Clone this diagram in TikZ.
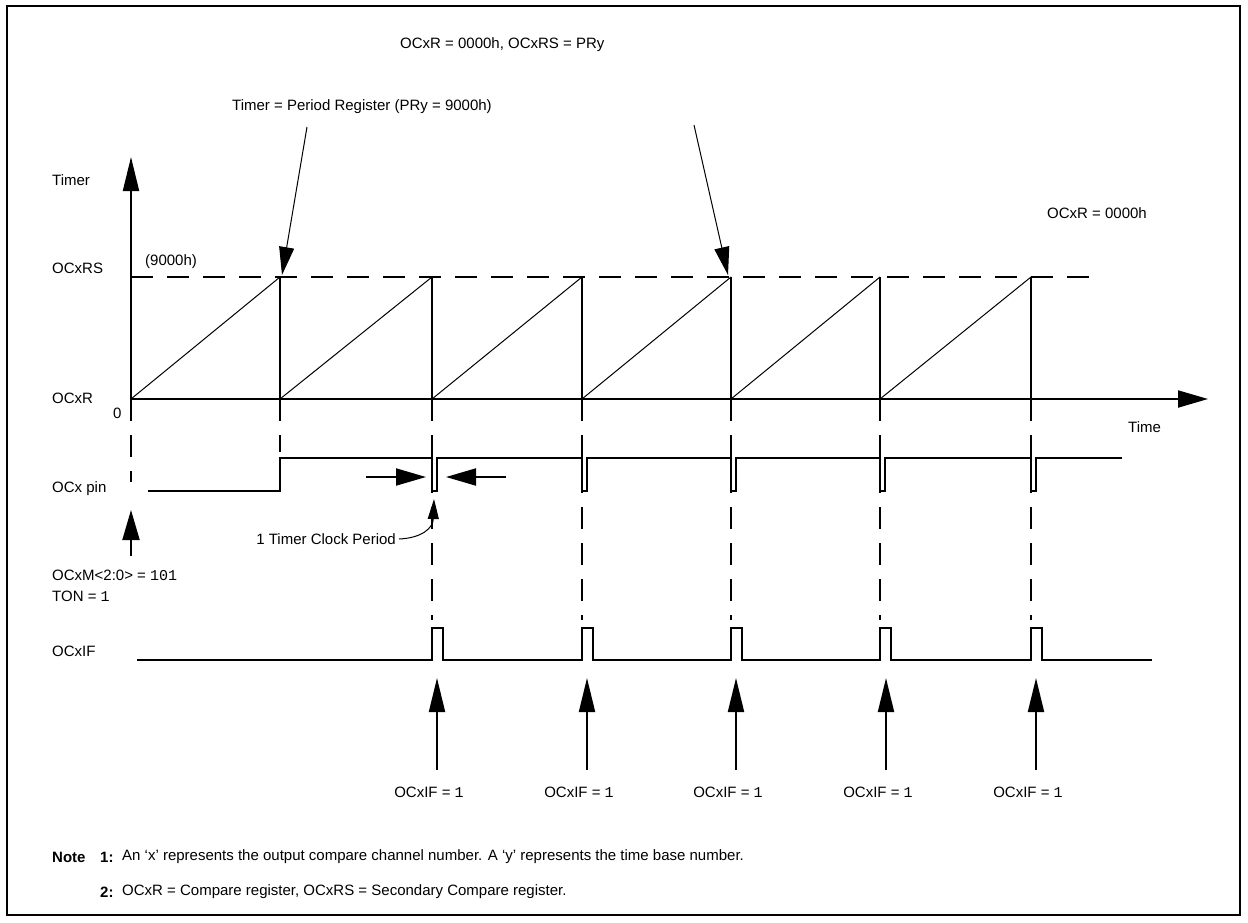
\documentclass[tikz,border=0pt]{standalone}
\usepackage{fontspec}
\setmainfont{Liberation Sans}
\setmonofont{Liberation Mono}
\usetikzlibrary{arrows.meta}
\begin{document}
\begin{tikzpicture}[x=1pt,y=-1pt,
  lbl/.style={font=\fontsize{15}{17}\selectfont, inner sep=0pt, anchor=west},
  notebold/.style={font=\fontsize{15}{17}\selectfont\bfseries},
  thick2/.style={line width=2pt},
  thin1/.style={line width=1pt},
  dsh/.style={line width=2pt, dash pattern=on 22pt off 14pt},
  bigtip/.style={-{Triangle[length=34pt,width=16pt]}},
  medtip/.style={-{Triangle[length=30pt,width=17pt]}},
  smalltip/.style={-{Triangle[length=28pt,width=15pt]}},
  curtip/.style={-{Triangle[length=20pt,width=11pt]}}
]
\useasboundingbox (0,0) rectangle (1248,922);
\draw[line width=2pt] (7,6) rectangle (1240,915);

% texts
\node[lbl] (top) at (400,45) {OCxR = 0000h, OCxRS = PRy};
\node[lbl] (tpr) at (232,107) {Timer = Period Register (PRy = 9000h)};
\node[lbl] (timer) at (52,180) {Timer};
\node[lbl] (ocxrs) at (52,268) {OCxRS};
\node[lbl] (h9000) at (145,262) {(9000h)};
\node[lbl] (ocxr) at (52,398) {OCxR};
\node[lbl] (zero) at (113,413) {0};
\node[lbl] (ocxr0) at (1047,213) {OCxR = 0000h};
\node[lbl] (time) at (1128,427) {Time};
\node[lbl] (pin) at (52,489) {OCx pin};
\node[lbl] (mode) at (52,575) {OCxM<2:0> = \texttt{101}};
\node[lbl] (ton) at (52,596) {TON = \texttt{1}};
\node[lbl] (ocxif) at (52,651) {OCxIF};
\node[lbl, anchor=east] (tcp) at (396,539) {1 Timer Clock Period};

% axes
\draw[thick2, bigtip] (131,399) -- (131,157);
\draw[thick2, medtip] (131,399) -- (1208,399);
\draw[dsh] (131,277) -- (1090,277);

% sawtooth
\foreach \a/\b in {131/280, 280/432, 432/582, 582/731, 731/880, 880/1031} {
  \draw[thin1] (\a,399) -- (\b,277);
  \draw[thick2] (\b,277) -- (\b,399);
}

% dashed verticals
\draw[dsh] (131,399) -- (131,482);
\draw[dsh] (280,399) -- (280,452);
\foreach \b in {432,582,731,880,1031} {
  \draw[dsh] (\b,399) -- (\b,620);
}

% OCx pin
\draw[thick2] (148,491) -- (280,491) -- (280,458) -- (432,458) -- (432,491) -- (437,491) -- (437,458)
  -- (582,458) -- (582,491) -- (587,491) -- (587,458)
  -- (731,458) -- (731,491) -- (736,491) -- (736,458)
  -- (880,458) -- (880,491) -- (885,491) -- (885,458)
  -- (1031,458) -- (1031,491) -- (1036,491) -- (1036,458) -- (1122,458);

% OCxIF
\draw[thick2] (137,660) -- (432,660) -- (432,628) -- (443,628) -- (443,660)
  -- (582,660) -- (582,628) -- (593,628) -- (593,660)
  -- (731,660) -- (731,628) -- (742,628) -- (742,660)
  -- (880,660) -- (880,628) -- (891,628) -- (891,660)
  -- (1031,660) -- (1031,628) -- (1042,628) -- (1042,660) -- (1152,660);

% annotation arrows
\coordinate (a1s) at (307,127); \coordinate (a1e) at (282,275);
\coordinate (a2s) at (694,125); \coordinate (a2e) at (728,275);
\draw[thin1, smalltip] (a1s) -- (a1e);
\draw[thin1, smalltip] (a2s) -- (a2e);

\coordinate (cl1) at (366,477); \coordinate (cl1e) at (426,477);
\coordinate (cl2) at (506,477); \coordinate (cl2e) at (446,477);
\draw[thick2, medtip] (cl1) -- (cl1e);
\draw[thick2, medtip] (cl2) -- (cl2e);

\coordinate (ct) at (434,499);
\draw[thin1, curtip] ([xshift=3pt]tcp.east) .. controls (422,538) and (433,528) .. (ct);

\coordinate (st) at (131,556); \coordinate (ste) at (131,510);
\draw[thick2, medtip] (st) -- (ste);

% OCxIF = 1 arrows and labels
\foreach \x [count=\i] in {437,587,736,886,1036} {
  \coordinate (f\i) at (\x,770);
  \coordinate (g\i) at (\x,678);
  \draw[thick2, bigtip] (f\i) -- (g\i);
  \node[lbl, anchor=center] (l\i) at (\x-8,792) {OCxIF = \texttt{1}};
}

% notes
\node[lbl, notebold] (note) at (52,857) {Note};
\node[lbl, notebold] (n1) at (100,857) {1:};
\node[lbl] (n1t) at (122,857) {An ‘x’ represents the output compare channel number. A ‘y’ represents the time base number.};
\node[lbl, notebold] (n2) at (100,892) {2:};
\node[lbl] (n2t) at (122,892) {OCxR = Compare register, OCxRS = Secondary Compare register.};
\end{tikzpicture}
\end{document}
